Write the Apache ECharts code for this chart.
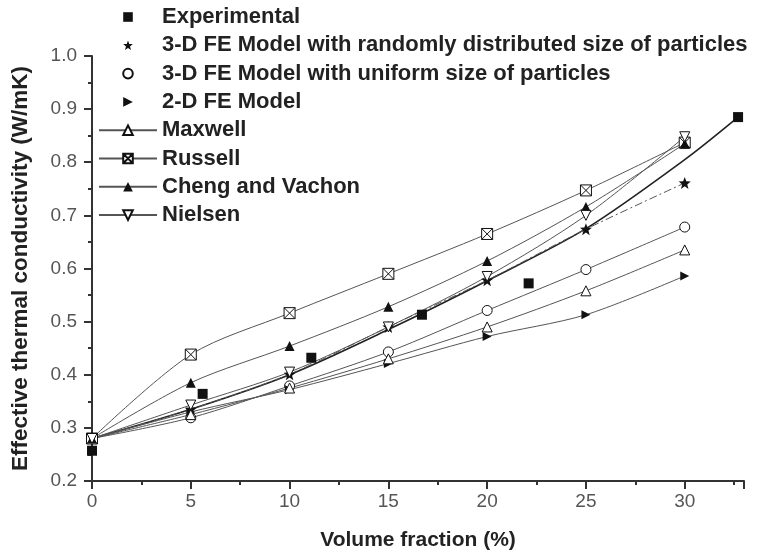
<!DOCTYPE html>
<html>
<head>
<meta charset="utf-8">
<title>Effective thermal conductivity</title>
<script src="https://cdn.jsdelivr.net/npm/echarts@6/dist/echarts.min.js"></script>
</head>
<body style="margin:0;background:#fff">
<div id="main" style="width:757px;height:556px;"></div>
<script>
// volume fraction (%) for the model curves
var volFrac = [0, 5, 10, 15, 20, 25, 30];

// experimental points
var expX = [0, 5.6, 11.1, 16.7, 22.1, 32.7];
var expY = [0.257, 0.364, 0.432, 0.513, 0.572, 0.885];

// solid trend curve through the experimental data
var fitX = [0, 5, 10, 15, 20, 25, 30, 32.7];
var fitY = [0.28, 0.335, 0.40, 0.485, 0.577, 0.675, 0.805, 0.885];

var fe3dRandom = [0.28, 0.335, 0.401, 0.490, 0.578, 0.674, 0.761];
var fe3dUniform = [0.28, 0.319, 0.379, 0.443, 0.521, 0.598, 0.678];
var fe2d = [0.28, 0.330, 0.372, 0.421, 0.472, 0.513, 0.586];
var maxwell = [0.28, 0.325, 0.375, 0.430, 0.490, 0.558, 0.635];
var russell = [0.28, 0.438, 0.516, 0.590, 0.665, 0.747, 0.837];
var chengVachon = [0.28, 0.385, 0.454, 0.528, 0.614, 0.716, 0.835];
var nielsen = [0.28, 0.343, 0.405, 0.490, 0.585, 0.700, 0.848];

var yTicks = [0.2, 0.3, 0.4, 0.5, 0.6, 0.7, 0.8, 0.9, 1.0];

var names = [
    'Experimental',
    '3-D FE Model with randomly distributed size of particles',
    '3-D FE Model with uniform size of particles',
    '2-D FE Model',
    'Maxwell',
    'Russell',
    'Cheng and Vachon',
    'Nielsen'
];

var FONT = 'Liberation Sans';
var lineColor = '#555';
var markColor = '#111';

var starPath = 'path://M12 1 L14.9 8.6 L23 8.9 L16.6 14 L18.9 22 L12 17.4 L5.1 22 L7.4 14 L1 8.9 L9.1 8.6 Z';
var russellPath = 'path://M1 1 H11 V11 H1 Z M1 1 L11 11 M11 1 L1 11';
var rightTriPath = 'path://M0 0 L10 5 L0 10 Z';
var downTriPath = 'path://M0 0 L10 0 L5 9 Z';

function pairs(xs, ys) {
    var out = [];
    for (var i = 0; i < xs.length; i++) {
        out.push([xs[i], ys[i]]);
    }
    return out;
}

function model(name, values, symbol, size, filled, lineType) {
    return {
        name: name,
        type: 'line',
        data: pairs(volFrac, values),
        smooth: 0.3,
        symbol: symbol,
        symbolSize: size,
        showAllSymbol: true,
        itemStyle: filled ? { color: markColor } : { color: '#fff', borderColor: markColor, borderWidth: 1 },
        lineStyle: { color: lineColor, width: 1, type: lineType || 'solid' },
        z: 3
    };
}

var myChart = echarts.init(document.getElementById('main'));

var option = {
    animation: false,
    backgroundColor: '#fff',
    grid: { left: 92, right: 13, top: 56, bottom: 70, containLabel: false },
    legend: {
        orient: 'vertical',
        left: 98,
        top: 6,
        itemWidth: 58,
        itemHeight: 12,
        itemGap: 6.3,
        padding: 0,
        textStyle: { fontFamily: FONT, fontWeight: 'bold', fontSize: 22, color: '#222' },
        data: [
            { name: names[0], lineStyle: { opacity: 0 } },
            { name: names[1], lineStyle: { opacity: 0 } },
            { name: names[2], lineStyle: { opacity: 0 } },
            { name: names[3], lineStyle: { opacity: 0 } },
            { name: names[4] },
            { name: names[5] },
            { name: names[6] },
            { name: names[7] }
        ]
    },
    xAxis: [
        {
            type: 'value',
            min: 0,
            max: 33,
            interval: 5,
            name: 'Volume fraction (%)',
            nameLocation: 'middle',
            nameGap: 49,
            nameTextStyle: { fontFamily: FONT, fontWeight: 'bold', fontSize: 21, color: '#222' },
            axisLine: { lineStyle: { color: '#333', width: 2 } },
            axisTick: { length: 8, lineStyle: { color: '#333', width: 2 } },
            axisLabel: {
                margin: 11,
                fontFamily: FONT,
                fontSize: 19,
                color: '#555',
                formatter: function (v) { return v % 5 === 0 ? String(v) : ''; }
            },
            splitLine: { show: false }
        },
        {
            type: 'value',
            min: 0,
            max: 33,
            interval: 2.5,
            position: 'bottom',
            axisLine: { show: false },
            axisTick: { length: 4, lineStyle: { color: '#333', width: 2 } },
            axisLabel: { show: false },
            splitLine: { show: false }
        }
    ],
    yAxis: {
        type: 'value',
        min: yTicks[0],
        max: yTicks[yTicks.length - 1],
        interval: 0.1,
        name: 'Effective thermal conductivity (W/mK)',
        nameLocation: 'middle',
        nameGap: 60,
        nameTextStyle: { fontFamily: FONT, fontWeight: 'bold', fontSize: 22.5, color: '#222' },
        axisLine: { show: true, lineStyle: { color: '#333', width: 2 } },
        axisTick: { show: true, length: 8, lineStyle: { color: '#333', width: 2 } },
        minorTick: { show: true, splitNumber: 2, length: 4, lineStyle: { color: '#333', width: 2 } },
        axisLabel: {
            margin: 15,
            fontFamily: FONT,
            fontSize: 19,
            color: '#555',
            formatter: function (v) { return v.toFixed(1); }
        },
        splitLine: { show: false }
    },
    series: [
        {
            name: 'fit',
            type: 'line',
            data: pairs(fitX, fitY),
            smooth: 0.3,
            showSymbol: false,
            lineStyle: { color: '#222', width: 1.6 },
            z: 2
        },
        {
            name: names[0],
            type: 'line',
            data: pairs(expX, expY),
            symbol: 'rect',
            symbolSize: 10,
            itemStyle: { color: markColor },
            lineStyle: { opacity: 0 },
            z: 4
        },
        model(names[1], fe3dRandom, starPath, 12, true, [8, 3, 2, 3]),
        model(names[2], fe3dUniform, 'circle', 10, false),
        model(names[3], fe2d, rightTriPath, 9, true),
        model(names[4], maxwell, 'triangle', 10, false),
        model(names[5], russell, russellPath, 11, false),
        model(names[6], chengVachon, 'triangle', 10, true),
        model(names[7], nielsen, downTriPath, 10, false)
    ]
};

myChart.setOption(option);
</script>
</body>
</html>
